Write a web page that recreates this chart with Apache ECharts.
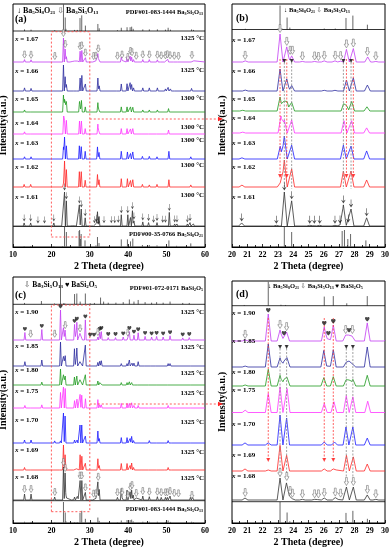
<!DOCTYPE html>
<html><head><meta charset="utf-8">
<script src="https://cdn.jsdelivr.net/npm/echarts/dist/echarts.min.js"></script>
<style>html,body{margin:0;padding:0;background:#fff}#c{width:391px;height:550px}</style>
</head><body><div id="c"></div>
<script>
// ---------------- DATA ----------------
const COMP_AB = ['1.67','1.66','1.65','1.64','1.63','1.62','1.61'];
const TEMP_AB = ['1325 °C','1325 °C','1300 °C','1300 °C','1300 °C','1300 °C','1300 °C'];
const COMP_CD = ['1.90','1.85','1.80','1.75','1.70','1.69','1.68'];
const TEMP_CD = ['1325 °C','1325 °C','1325 °C','1325 °C','1325 °C','1325 °C','1325 °C'];
const X_TICKS_WIDE = [10,20,30,40,50,60];
const X_TICKS_ZOOM = [20,21,22,23,24,25,26,27,28,29,30];

// peak lists: [2theta, relative intensity]
const P167 = [[13.0,10],[14.7,9],[20.87,4],[23.14,100],[23.58,54],[23.9,22],[24.6,2],[25.4,2],[26.03,4],[26.73,4],[27.1,3],[27.48,45],[27.93,48],[28.87,18],[29.4,2],[31.0,4],[31.6,5],[32.1,35],[32.45,15],[37.2,5],[38.2,20],[38.5,10],[39.7,22],[40.5,25],[40.9,20],[41.4,10],[42.1,5],[43.8,10],[45.5,10],[47.6,9],[48.6,6],[49.7,7],[50.3,11],[50.9,7],[52.0,5],[53.1,4],[56.6,8],[57.1,5]];
const P166 = [[13.0,12],[14.7,10],[20.87,4],[23.14,100],[23.58,55],[23.9,25],[26.03,3],[26.73,3],[27.48,50],[27.93,60],[28.85,27],[32.1,50],[32.45,20],[37.2,4],[38.2,27],[39.7,28],[40.5,32],[40.9,25],[41.4,12],[43.8,12],[45.5,12],[47.6,12],[49.7,8],[50.4,14],[51.0,8],[52.3,5],[56.5,10],[57.0,6]];
const P165 = [[13.0,12],[14.7,10],[20.7,5],[23.14,100],[23.42,75],[23.6,68],[23.9,62],[27.32,62],[27.48,40],[27.82,68],[28.82,30],[32.1,55],[32.4,25],[38.2,30],[39.7,30],[40.6,30],[41.2,28],[43.8,12],[45.5,12],[47.6,12],[50.5,20],[56.5,10]];
const P164 = [[13.0,12],[14.7,10],[20.7,5],[23.2,100],[23.42,76],[23.9,76],[27.32,72],[27.82,72],[28.8,30],[32.1,55],[32.4,28],[38.2,30],[39.7,30],[40.6,28],[41.2,30],[43.8,10],[45.5,10],[47.6,10],[50.5,22],[56.5,8]];
const P163 = [[13.0,10],[14.7,10],[20.65,5],[23.15,55],[23.42,100],[23.9,60],[27.28,60],[27.78,56],[28.8,35],[32.0,55],[32.4,30],[38.2,35],[39.8,32],[40.6,25],[41.2,32],[43.7,12],[45.5,12],[47.5,10],[50.6,35],[56.3,10]];
const P162 = [[12.9,10],[14.6,10],[20.65,7],[23.15,15],[23.42,100],[23.9,67],[27.28,59],[27.78,59],[28.8,26],[32.0,48],[32.4,28],[38.2,32],[39.8,32],[40.6,25],[41.2,28],[43.7,10],[45.5,8],[47.5,10],[50.6,28],[56.3,8]];
const P161 = [[12.9,9],[14.6,9],[16.5,3],[18.2,3],[20.63,9],[22.9,2],[23.42,100],[23.9,74],[25.08,2],[25.38,2],[25.73,2],[26.73,2],[27.06,3],[27.28,62],[27.6,6],[27.78,50],[28.8,24],[31.2,4],[31.7,8],[32.0,42],[32.4,28],[33.7,4],[35.6,4],[36.5,4],[37.4,5],[38.2,33],[39.9,33],[40.6,25],[41.1,45],[41.5,15],[43.8,12],[45.3,10],[46.6,5],[47.5,10],[49.0,5],[49.7,5],[50.7,40],[52.1,6],[52.7,6],[55.4,6],[56.1,10],[57.0,6]];

const P190 = [[13.1,25],[14.6,4],[17.5,35],[20.86,4],[22.37,100],[23.14,41],[23.4,15],[23.57,33],[26.03,52],[26.3,15],[26.62,59],[27.43,22],[27.65,26],[27.87,22],[28.84,67],[30.1,6],[31.1,6],[32.1,10],[32.6,25],[33.0,28],[34.8,8],[36.7,8],[38.7,10],[39.9,8],[40.3,28],[41.5,16],[42.6,24],[44.4,12],[46.1,10],[47.4,12],[49.1,10],[50.9,14],[54.2,7],[55.9,8]];
const P185 = [[13.1,18],[17.5,25],[20.86,4],[22.37,100],[23.14,40],[23.4,26],[23.6,43],[26.0,72],[26.3,10],[26.62,75],[27.47,22],[27.65,26],[27.9,22],[28.84,87],[32.1,15],[32.6,20],[33.0,22],[38.2,10],[39.7,10],[40.3,25],[41.0,12],[41.5,12],[42.6,18],[44.4,8],[46.1,8],[47.4,8],[50.4,10],[50.9,10],[56.5,5]];
const P180 = [[13.1,12],[17.5,18],[20.86,6],[22.37,100],[23.14,64],[23.4,40],[23.6,56],[26.0,50],[26.62,56],[27.47,40],[27.65,36],[27.9,40],[28.84,64],[32.1,25],[32.6,15],[33.0,15],[38.2,15],[39.7,15],[40.3,20],[40.9,15],[41.5,10],[42.6,12],[43.8,6],[45.5,6],[47.5,6],[50.4,10],[56.5,5]];
const P175 = [[13.1,12],[14.7,8],[17.5,15],[20.86,9],[22.37,74],[23.14,100],[23.6,93],[26.03,35],[26.66,42],[27.47,65],[27.9,61],[28.87,44],[32.1,40],[32.6,15],[33.0,15],[38.2,22],[39.7,22],[40.3,22],[40.9,25],[41.5,12],[42.6,12],[43.8,8],[45.5,8],[47.6,8],[50.4,12],[56.5,6]];
const P170 = [[13.0,10],[14.7,10],[20.85,7],[22.37,7],[23.14,100],[23.57,90],[26.03,10],[26.7,10],[27.45,60],[27.9,60],[28.84,23],[32.1,40],[32.45,15],[38.2,18],[39.7,18],[40.5,15],[40.9,22],[41.4,8],[43.8,6],[45.5,8],[47.6,6],[49.7,5],[50.4,8],[51.0,6],[56.5,5]];
const P169 = [[13.0,10],[14.7,8],[20.85,8],[22.37,4],[23.14,100],[23.57,61],[26.03,8],[26.62,8],[26.75,6],[27.48,61],[27.93,55],[28.84,27],[32.1,45],[32.45,18],[38.2,26],[39.7,26],[40.5,18],[40.9,28],[41.4,10],[43.8,8],[45.5,8],[47.6,8],[49.7,6],[50.4,10],[51.0,6],[56.5,6]];
const P168 = [[13.0,18],[14.7,18],[20.85,9],[23.14,100],[23.57,82],[23.75,18],[23.95,6],[24.6,3],[25.4,3],[25.65,3],[26.03,9],[26.75,11],[27.05,6],[27.48,59],[27.93,59],[28.84,23],[29.4,3],[31.0,4],[31.6,5],[32.1,55],[32.45,32],[37.2,8],[38.2,35],[38.5,10],[39.7,30],[40.5,25],[40.9,30],[41.3,15],[42.1,6],[43.8,12],[45.5,10],[47.6,10],[48.6,8],[49.7,8],[50.2,8],[50.9,12],[52.0,6],[53.1,5],[56.2,8],[56.8,8]];

// reference stick patterns
const REF_B3S5 = [[13.0,6],[14.7,5],[20.87,3],[23.14,100],[23.6,50],[23.78,8],[26.03,4],[26.75,4],[27.45,48],[27.9,58],[28.85,20],[32.1,26],[32.45,10],[37.2,3],[38.2,12],[39.7,14],[40.5,14],[40.9,16],[41.3,8],[43.8,6],[45.5,6],[47.6,6],[49.7,5],[50.4,12],[51.0,5],[56.5,6],[57.0,4]];
const REF_B5S8 = [[12.9,4],[14.6,4],[20.63,4],[22.9,3],[23.42,100],[23.9,75],[27.2,80],[27.35,85],[27.57,40],[27.75,65],[28.75,33],[31.6,8],[32.0,50],[32.4,20],[38.2,38],[39.8,38],[40.6,28],[41.2,42],[43.7,10],[45.5,10],[47.5,8],[50.6,33],[52.6,6],[56.3,18]];
const REF_BS2 = [[13.0,5],[17.4,12],[20.8,3],[22.37,100],[23.2,4],[23.5,3],[26.03,38],[26.62,40],[27.5,10],[28.84,40],[30.1,4],[31.2,5],[32.8,25],[33.6,10],[34.8,6],[36.8,6],[38.7,8],[40.3,18],[41.5,10],[42.6,16],[44.4,8],[46.1,6],[47.4,8],[49.1,6],[50.9,10],[54.2,5],[55.9,5]];

// phase markers (2theta)
const MK_B3S5_WIDE = [13.0,14.7,20.9,23.14,23.6,27.45,27.9,28.85,31.0,31.6,32.2,37.2,38.4,39.9,40.6,41.0,42.1,43.8,45.5,47.6,48.6,49.7,50.2,50.9,52.0,53.1,56.6];
const MK_B5S8_WIDE = [12.9,14.6,16.5,18.2,20.63,23.42,23.9,27.28,27.78,28.8,31.2,31.7,32.2,33.7,35.6,36.5,37.4,38.2,39.9,41.1,41.5,43.8,45.3,46.6,47.5,49.0,49.7,50.7,52.1,52.7,55.4,56.1];
const MK_B3S5_ZOOM = [20.86,23.14,23.58,23.8,23.95,24.6,25.4,25.65,26.03,26.75,27.1,27.48,27.93,28.85,29.4];
const MK_B5S8_ZOOM = [20.63,22.9,23.42,23.9,25.08,25.38,25.73,26.73,27.06,27.28,27.6,27.78,28.8];
const HEART_C = [13.1,17.5,22.37,26.03,26.62,28.84,30.1,31.1,32.6,33.0,34.8,36.7,38.7,40.3,41.5,42.6,44.4,46.1,47.4,49.1,50.9,54.2,55.9];
const HOLLOW_C190 = [14.6,20.86,23.6,27.47,32.1,39.9];
const HEART_D = [22.37,23.4,26.03,26.3,26.62,27.65,28.84];
const HOLLOW_D190 = [20.86,23.14,23.57,27.43,27.87];
const DASH_B_RED = [23.14,23.58,27.48,27.93];
const DASH_B_GREY = [23.42,23.9,27.28,27.78];
const DASH_D_RED = [22.37,26.03,26.62];
const DASH_D_GREY = [23.14,23.57,27.47,27.9];
const ZOOM_RANGE = [20,30];

// ---------------- LAYOUT / STYLE ----------------
const FONT = '"Liberation Serif","Times New Roman","DejaVu Serif",serif';
const SYMFONT = '"Liberation Serif","DejaVu Sans",serif';
const COLORS = ['#c33cf2','#2b2b9e','#1f9a1f','#ff33ff','#1c1cff','#ff2626','#333333'];
const SYM = {
  hollow: 'path://M3,0 L7,0 L7,8 L10,8 L5,15 L0,8 L3,8 Z',
  thin: 'path://M4.4,0 L5.6,0 L5.6,10 L8.5,7.5 L9,8.3 L5,14 L1,8.3 L1.5,7.5 L4.4,10 Z',
  heart: 'path://M5,10 C1,6.5 0,4.5 0,2.7 C0,1.1 1.2,0 2.6,0 C3.7,0 4.5,0.6 5,1.5 C5.5,0.6 6.3,0 7.4,0 C8.8,0 10,1.1 10,2.7 C10,4.5 9,6.5 5,10 Z'
};
const PANELS = [
  {grid:{left:13,top:4,width:192,height:243}, range:[10,60], step:10, w:0.22, peaks:[P167,P166,P165,P164,P163,P162,P161], comp:COMP_AB, temp:TEMP_AB,
   base:[185,156,135,113,88,60,21], scale:[24,26,17,18,22,26,34],
   top:{ref:REF_B3S5, base:216, scale:27}, bot:{ref:REF_B5S8, base:0, scale:20, sep:20.5},
   marks:[{t:0,list:MK_B3S5_WIDE,sym:'hollow',size:[4,7]},{t:6,list:MK_B5S8_WIDE,sym:'thin',size:[3,7]}],
   box:[10,215.3], labY:[39,71,99,123,143,167,197], tempY:[38,70,98,127,140,165,195], labX:15, tempX:204},
  {grid:{left:232,top:4,width:153,height:243}, range:[20,30], step:1, w:0.19, peaks:[P167,P166,P165,P164,P163,P162,P161], comp:COMP_AB, temp:null,
   base:[185,156,136,114,88,60,21], scale:[28,22,14,17,23,27,34],
   top:{ref:REF_B3S5, base:217.5, scale:24}, bot:{ref:REF_B5S8, base:0, scale:20, sep:20.5},
   marks:[{t:0,list:MK_B3S5_ZOOM,sym:'hollow',size:[4.5,8]},{t:6,list:MK_B5S8_ZOOM,sym:'thin',size:[4,8]}],
   dashes:[{xs:DASH_B_RED,y1:188,y2:70,color:'#ff3b3b',head:'bottom'},{xs:DASH_B_GREY,y1:188,y2:58,color:'#888',head:'top'}],
   labY:[40,71,99,118,143,167,197], labX:232},
  {grid:{left:13,top:277,width:192,height:246}, range:[10,60], step:10, w:0.22, peaks:[P190,P185,P180,P175,P170,P169,P168], comp:COMP_CD, temp:TEMP_CD,
   base:[183,157,138,115,80,53,23], scale:[30,24,16,21,30,25,33],
   top:{ref:REF_BS2, base:218.7, scale:27}, bot:{ref:REF_B3S5, base:0, scale:21, sep:22.3},
   marks:[{t:0,list:HEART_C,sym:'heart',size:[4,4]},{t:0,list:HOLLOW_C190,sym:'hollow',size:[4,7]},{t:6,list:MK_B3S5_WIDE,sym:'hollow',size:[4,7]}],
   box:[11.3,218], labY:[312,346,370,391,420,450,477], tempY:[312,347,373,393,422,452,478], labX:15, tempX:204},
  {grid:{left:232,top:281,width:153,height:242}, range:[20,30], step:1, w:0.19, peaks:[P190,P185,P180,P175,P170,P169,P168], comp:COMP_CD, temp:null,
   base:[182,156,137,110.5,78,52,23], scale:[27,23,16.7,25.7,30,25.7,22],
   top:{ref:REF_BS2, base:217.3, scale:24}, bot:{ref:REF_B3S5, base:0, scale:21, sep:21.3},
   marks:[{t:0,list:HEART_D,sym:'heart',size:[4.5,4.5]},{t:0,list:HOLLOW_D190,sym:'hollow',size:[4.5,8]},{t:6,list:MK_B3S5_ZOOM,sym:'hollow',size:[4.5,8]}],
   dashes:[{xs:DASH_D_RED,y1:205,y2:62,color:'#ff3b3b',head:'bottom'},{xs:DASH_D_GREY,y1:178,y2:46,color:'#888',head:'top'}],
   labY:[313,341,372,390,424,455,476], labX:232}
];

// ---------------- BUILD ----------------
function profile(peaks, lo, hi, w) {
  const xs = new Set([lo, hi]);
  peaks.forEach(([p]) => { [p - w, p, p + w].forEach(x => { if (x >= lo && x <= hi) xs.add(+x.toFixed(4)); }); });
  return [...xs].sort((a, b) => a - b).map(x => {
    let v = 0;
    peaks.forEach(([p, I]) => { const d = Math.abs(x - p); if (d < w) v = Math.max(v, I * (1 - d / w)); });
    return [x, v];
  });
}
function peakAt(peaks, x) {
  let v = 0;
  peaks.forEach(([p, I]) => { if (Math.abs(p - x) <= 0.13) v = Math.max(v, I); });
  return v;
}
const grids = [], xAxes = [], yAxes = [], series = [];
PANELS.forEach((P, i) => {
  const H = P.grid.height, [lo, hi] = P.range;
  grids.push(Object.assign({show:true, borderColor:'#000', borderWidth:1, backgroundColor:'transparent', containLabel:false, outerBoundsMode:'none'}, P.grid));
  xAxes.push({type:'value', gridIndex:i, min:lo, max:hi, interval:P.step,
    axisLine:{show:true, onZero:false, lineStyle:{color:'#000', width:1}},
    axisTick:{show:true, inside:true, length:3, lineStyle:{color:'#000', width:0.8}},
    minorTick:{show:true, splitNumber:2, length:2, lineStyle:{color:'#000', width:0.8}},
    splitLine:{show:false},
    axisLabel:{fontFamily:FONT, fontWeight:'bold', fontSize:8, color:'#000', margin:4, showMinLabel:true, showMaxLabel:true, hideOverlap:false},
    name:'2 Theta (degree)', nameLocation:'middle', nameGap:14,
    nameTextStyle:{fontFamily:FONT, fontWeight:'bold', fontSize:10, color:'#000'}});
  yAxes.push({type:'value', gridIndex:i, min:0, max:H, axisLine:{show:false}, axisTick:{show:false}, axisLabel:{show:false}, splitLine:{show:false},
    name:'Intensity(a.u.)', nameLocation:'middle', nameRotate:90, nameGap:5,
    nameTextStyle:{fontFamily:FONT, fontWeight:'bold', fontSize:10, color:'#000'}});
  const ax = {xAxisIndex:i, yAxisIndex:i, animation:false, silent:true};
  [P.top, P.bot].forEach(R => {
    series.push(Object.assign({type:'custom', clip:true, encode:{x:0, y:1}, z:2,
      data: R.ref.filter(d => d[0] >= lo && d[0] <= hi),
      renderItem:(params, api) => {
        const x = api.value(0), h = api.value(1);
        const a = api.coord([x, R.base]), b = api.coord([x, R.base + h * R.scale / 100]);
        return {type:'line', shape:{x1:a[0], y1:a[1], x2:b[0], y2:b[1]}, style:{stroke:'#555', lineWidth:0.9}};
      }}, ax));
  });
  [P.top.base, P.bot.sep].forEach(s => series.push(Object.assign({type:'line', symbol:'none', data:[[lo, s],[hi, s]], lineStyle:{color:'#000', width:0.8}, z:2}, ax)));
  P.peaks.forEach((pk, t) => {
    const b = P.base[t], sc = P.scale[t];
    series.push(Object.assign({type:'line', symbol:'none', showSymbol:false, clip:true, z:3,
      data: profile(pk, lo, hi, P.w).map(([x, v]) => [x, b + v * sc / 100]),
      lineStyle:{color:COLORS[t], width:0.8}}, ax));
  });
  if (P.box) {
    const [y0, y1] = P.box, [x0, x1] = ZOOM_RANGE;
    series.push(Object.assign({type:'line', symbol:'none', z:4, data:[[x0,y0],[x1,y0],[x1,y1],[x0,y1],[x0,y0]],
      lineStyle:{color:'#ff4a4a', width:0.9, type:[2,2]}}, ax));
  }
  (P.dashes || []).forEach(D => {
    D.xs.forEach(x => series.push(Object.assign({type:'line', symbol:'none', z:5, data:[[x, D.y1],[x, D.y2]],
      lineStyle:{color:D.color, width:0.8, type:[2,1.5]}}, ax)));
    series.push(Object.assign({type:'scatter', z:6, symbol:'triangle', symbolRotate:180, symbolSize:[4,4],
      data: D.xs.map(x => [x, D.head === 'top' ? D.y1 - 2 : D.y2 + 1]),
      itemStyle:{color: D.head === 'top' ? '#111' : '#ff2020'}}, ax));
  });
  P.marks.forEach(M => {
    const pk = P.peaks[M.t], b = P.base[M.t], sc = P.scale[M.t];
    const hollow = M.sym === 'hollow';
    series.push(Object.assign({type:'scatter', z:7, symbol:SYM[M.sym], symbolSize:M.size, symbolOffset:[0,'-50%'],
      data: M.list.filter(x => x >= lo && x <= hi).map(x => [x, b + peakAt(pk, x) * sc / 100 + 1.5]),
      itemStyle: hollow ? {color:'#fff', borderColor:'#6e6e6e', borderWidth:0.7} : {color:'#1a1a1a'}}, ax));
  });
});

const txt = (text, x, y, size, align, extra) => ({type:'text', x, y, z:50, silent:true,
  style:Object.assign({text, fontFamily:FONT, fontWeight:'bold', fontSize:size, fill:'#000', align, verticalAlign:'middle',
    rich:{i:{fontFamily:FONT, fontStyle:'italic', fontWeight:'bold', fontSize:size, fill:'#000'},
          n:{fontFamily:FONT, fontWeight:'bold', fontSize:size, fill:'#000'},
          s:{fontFamily:FONT, fontWeight:'bold', fontSize:Math.round(size*0.62), fill:'#000', padding:[Math.round(size*0.45),0,0,0]},
          g:{fontFamily:SYMFONT, fontSize:size, fill:'#555'},
          k:{fontFamily:SYMFONT, fontSize:size, fill:'#000'}}}, extra || {})});
const graphics = [];
PANELS.forEach(P => {
  P.comp.forEach((c, t) => {
    graphics.push(txt('{i|x}{n| = ' + c + '}', P.labX, P.labY[t], 7, 'left'));
    if (P.temp) graphics.push(txt(P.temp[t], P.tempX, P.tempY[t], 7, 'right'));
  });
});
graphics.push(
  txt('(a)', 15, 19, 10, 'left'), txt('(b)', 236, 18, 10, 'left'), txt('(c)', 15, 295, 10, 'left'), txt('(d)', 236, 294, 10, 'left'),
  txt('{k|↓} Ba{s|5}Si{s|8}O{s|21} {g|⇩} Ba{s|3}Si{s|5}O{s|13}', 17, 11, 8, 'left'),
  txt('PDF#01-083-1444 Ba{s|3}Si{s|5}O{s|13}', 203, 12, 6.5, 'right'),
  txt('PDF#00-35-0766 Ba{s|5}Si{s|8}O{s|21}', 203, 234, 6.5, 'right'),
  txt('{k|↓} Ba{s|5}Si{s|8}O{s|21} {g|⇩} Ba{s|3}Si{s|5}O{s|13}', 284, 10, 6.5, 'left'),
  txt('{g|⇩} Ba{s|3}Si{s|5}O{s|13} {k|♥} BaSi{s|2}O{s|5}', 24, 285, 7.5, 'left'),
  txt('PDF#01-072-0171 BaSi{s|2}O{s|5}', 203, 288, 6.5, 'right'),
  txt('PDF#01-083-1444 Ba{s|3}Si{s|5}O{s|13}', 203, 509, 6.5, 'right'),
  txt('{k|↓} Ba{s|5}Si{s|8}O{s|21} {g|⇩} Ba{s|3}Si{s|5}O{s|13} {k|♥} BaSi{s|2}O{s|5}', 268, 286, 6.5, 'left')
);

const chart = echarts.init(document.getElementById('c'), null, {renderer:'canvas'});
chart.setOption({animation:false, backgroundColor:'#fff', grid:grids, xAxis:xAxes, yAxis:yAxes, series, graphic:graphics});

const CONNECT = [{from:0, to:1, y:128}, {from:2, to:3, y:119}];
const extra = [];
CONNECT.forEach(C => {
  const p = chart.convertToPixel({gridIndex:C.from}, [ZOOM_RANGE[1], C.y]);
  const endX = PANELS[C.to].grid.left - 9;
  extra.push({type:'line', z:60, silent:true, shape:{x1:p[0], y1:p[1], x2:endX - 4, y2:p[1]}, style:{stroke:'#ff4a4a', lineWidth:0.9, lineDash:[2,2]}});
  extra.push({type:'polygon', z:60, silent:true, shape:{points:[[endX - 5, p[1] - 2.2],[endX, p[1]],[endX - 5, p[1] + 2.2]]}, style:{fill:'#ff2020'}});
});
chart.setOption({graphic: graphics.concat(extra)});
</script></body></html>
